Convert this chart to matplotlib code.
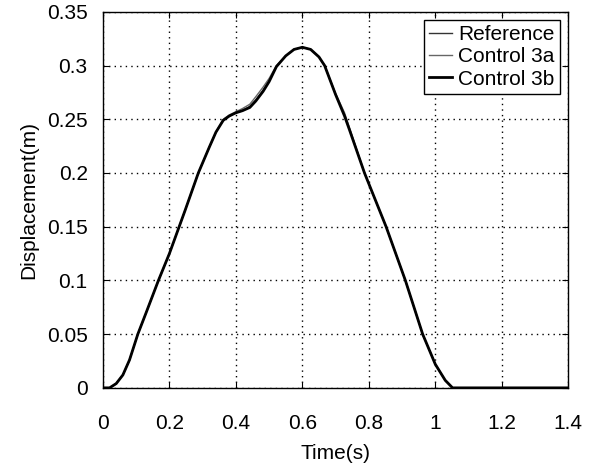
import matplotlib
matplotlib.use("Agg")
import matplotlib.pyplot as plt
import numpy as np

plt.rcParams['font.family'] = ['Liberation Sans', 'DejaVu Sans']

# time samples (s)
t = [0.0, 0.02, 0.04, 0.06, 0.08, 0.105, 0.13, 0.167, 0.2, 0.247, 0.287,
     0.32, 0.34, 0.362, 0.38, 0.4, 0.42, 0.442, 0.46, 0.482, 0.5, 0.522,
     0.55, 0.575, 0.6, 0.625, 0.65, 0.667, 0.7, 0.727, 0.742, 0.787, 0.852,
     0.91, 0.962, 1.0, 1.03, 1.052, 1.1, 1.4]

# displacement (m)
reference = [0.0, 0.0, 0.004, 0.012, 0.026, 0.05, 0.07, 0.1, 0.125, 0.165,
             0.2, 0.224, 0.238, 0.249, 0.253, 0.256, 0.258, 0.262, 0.268,
             0.277, 0.286, 0.299, 0.309, 0.315, 0.317, 0.315, 0.308, 0.3,
             0.273, 0.254, 0.241, 0.2, 0.15, 0.1, 0.05, 0.022, 0.007, 0.0,
             0.0, 0.0]
control_3a = [0.0, 0.0, 0.004, 0.012, 0.026, 0.05, 0.07, 0.1, 0.125, 0.165,
              0.2, 0.224, 0.238, 0.25, 0.254, 0.257, 0.26, 0.264, 0.271,
              0.28, 0.288, 0.3, 0.309, 0.315, 0.317, 0.315, 0.308, 0.3,
              0.274, 0.256, 0.242, 0.2, 0.15, 0.1, 0.05, 0.022, 0.007, 0.0,
              0.0, 0.0]
control_3b = [0.0, 0.0, 0.004, 0.012, 0.026, 0.05, 0.07, 0.1, 0.125, 0.165,
              0.2, 0.224, 0.238, 0.249, 0.253, 0.256, 0.258, 0.261, 0.267,
              0.276, 0.285, 0.299, 0.309, 0.315, 0.317, 0.315, 0.308, 0.3,
              0.273, 0.253, 0.24, 0.2, 0.15, 0.1, 0.05, 0.022, 0.007, 0.0,
              0.0, 0.0]

fig = plt.figure(figsize=(5.95, 4.73), dpi=100)
ax = fig.add_axes([0.173, 0.180, 0.782, 0.795])

ax.plot(t, reference, color='#333333', lw=1.0, label='Reference')
ax.plot(t, control_3a, color='#666666', lw=1.0, label='Control 3a')
ax.plot(t, control_3b, color='black', lw=2.0, label='Control 3b')

ax.set_xlim(0, 1.4)
ax.set_ylim(0, 0.35)
ax.set_xticks(np.arange(0, 1.41, 0.2))
ax.set_yticks(np.arange(0, 0.351, 0.05))
ax.set_xticklabels(['0', '0.2', '0.4', '0.6', '0.8', '1', '1.2', '1.4'])
ax.set_yticklabels(['0', '0.05', '0.1', '0.15', '0.2', '0.25', '0.3', '0.35'])
ax.tick_params(direction='in', top=True, right=True, labelsize=15,
               length=4, color='black')
ax.tick_params(axis='x', pad=19)
ax.tick_params(axis='y', pad=11)
ax.grid(True, color='black', linestyle=(0, (1, 3)), linewidth=1.0)
for s in ax.spines.values():
    s.set_linewidth(1.0)

ax.set_xlabel('Time(s)', fontsize=15, labelpad=8)
ax.set_ylabel('Displacement(m)', fontsize=15, labelpad=6)

leg = ax.legend(loc='upper right', fontsize=15, handlelength=1.1,
                handletextpad=0.3, borderpad=0.25, labelspacing=0.15,
                fancybox=False, framealpha=1, edgecolor='black',
                borderaxespad=0.4)
leg.get_frame().set_linewidth(1.0)

fig.savefig('out.png', dpi=100)
